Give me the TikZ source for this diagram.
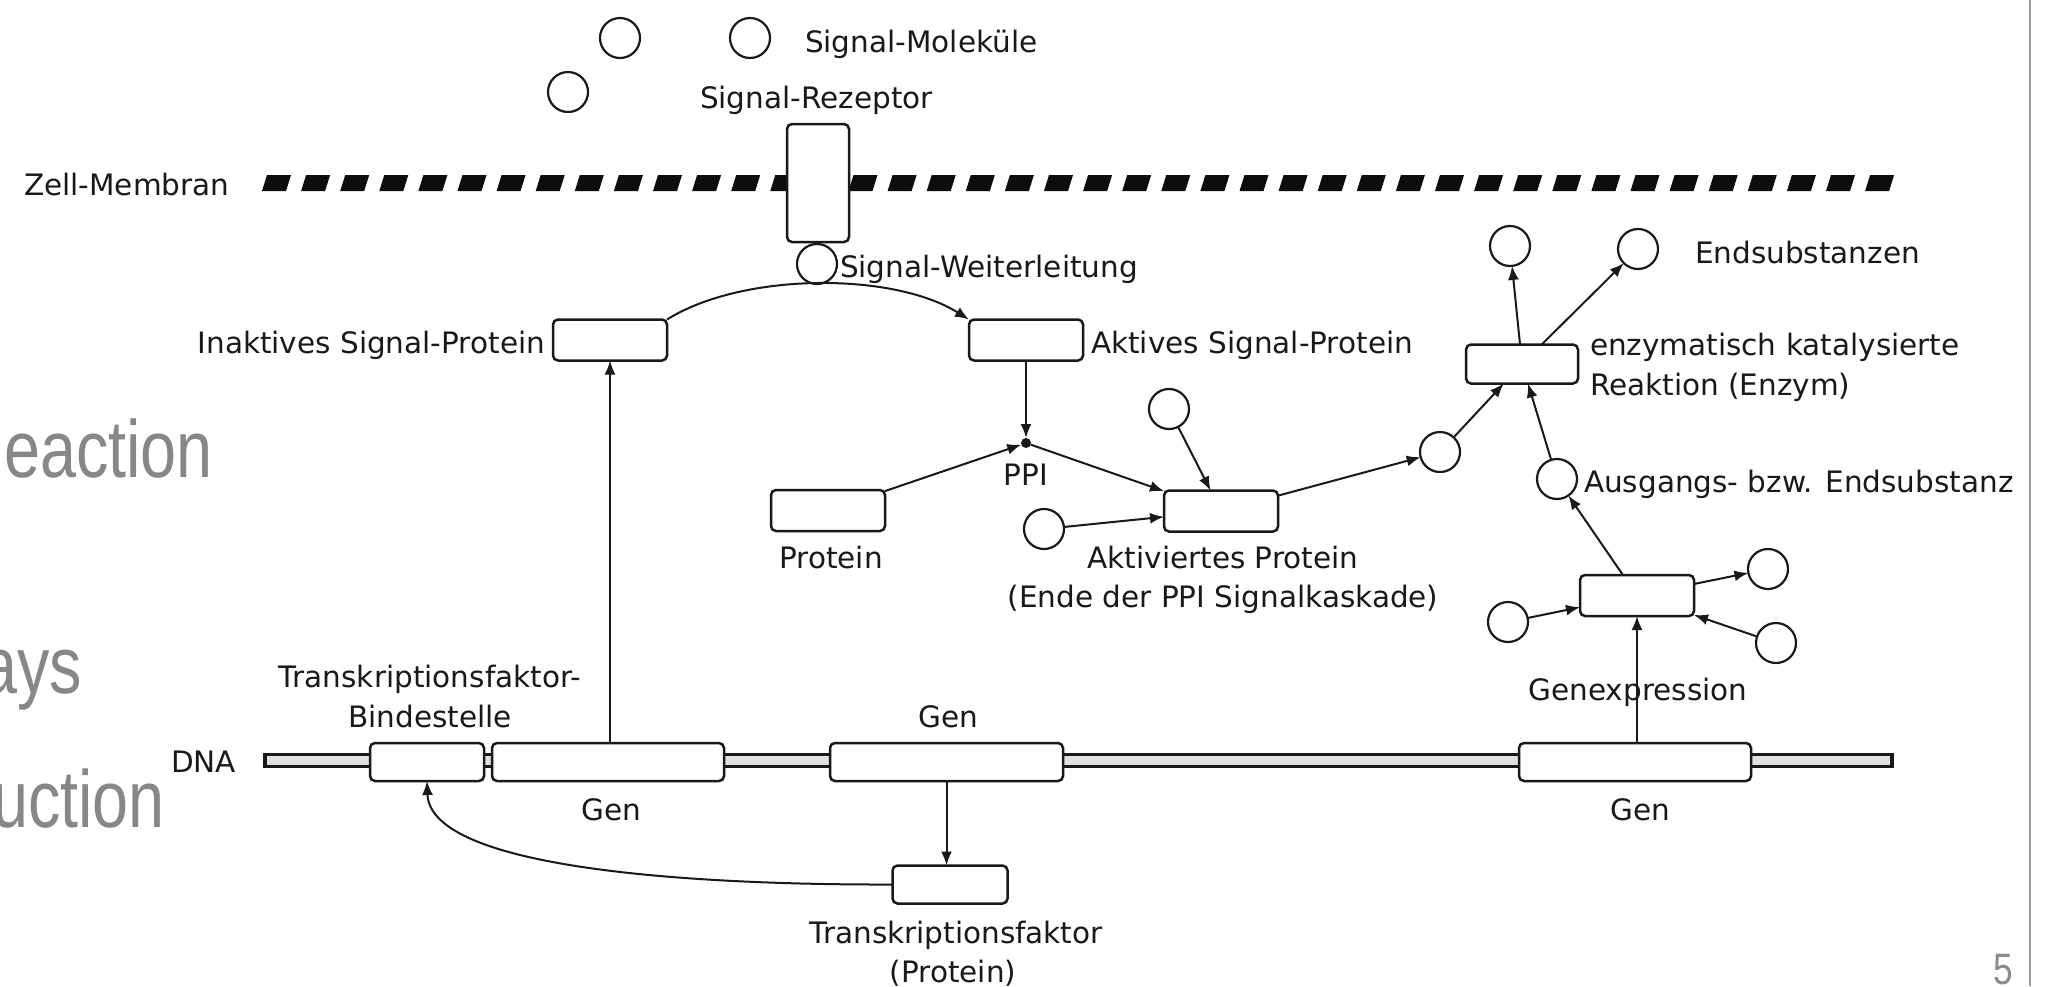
\documentclass[tikz,border=0pt]{standalone}
\usepackage{fontspec}
\setmainfont{DejaVu Sans}
\newfontfamily\slidefont[FakeStretch=0.8]{Liberation Sans}
\usetikzlibrary{arrows.meta,calc}
\begin{document}
\begin{tikzpicture}[x=1pt,y=-1pt,
  every node/.style={inner sep=0pt, outer sep=0pt},
  lbl/.style={font=\fontsize{29.5}{34}\selectfont, text=black!90},
  box/.style={draw=black!90, line width=2.5pt, rounded corners=5pt, fill=white, minimum height=41pt},
  mol/.style={draw=black!90, line width=2.2pt, circle, minimum size=40pt, fill=white},
  link/.style={draw=black!90, line width=2pt, -{Latex[length=14pt,width=11pt]}},
  slide/.style={font=\slidefont\fontsize{81}{90}\selectfont, text=black!47}]

% canvas
\useasboundingbox (0,0) rectangle (2053,986);
\clip (0,0) rectangle (2053,986);
\fill[white] (0,0) rectangle (2053,986);

% slide text behind the diagram
\node[slide, anchor=base east] (gA) at (213,477) {eaction};
\node[slide, anchor=base east] (gB) at (82,693) {ays};
\node[slide, anchor=base east] (gC) at (165,827) {uction};
\node[font=\slidefont\fontsize{44}{50}\selectfont, text=black!45, anchor=north] (pg) at (2003,954) {5};
\draw[black!40, line width=1.5pt] (2030,0) -- (2030,986);

% cell membrane: slanted dashes
\foreach \i in {0,...,41}{
  \pgfmathsetmacro{\xa}{262+\i*39.1}
  \fill[black!95] (\xa,191) -- ({\xa+24},191) -- ({\xa+29},175) -- ({\xa+5},175) -- cycle;
}

% DNA strand
\draw[black!90, line width=3.4pt, fill=black!12] (265,754.5) rectangle (1892,766.5);

% signal molecules and receptor
\node[mol] (s1) at (620,38) {};
\node[mol] (s2) at (750,38) {};
\node[mol] (s3) at (568,92) {};
\node[box, minimum width=62pt, minimum height=118pt] (rez) at (818,183) {};
\node[mol] (sw) at (817,264) {};

% signalling proteins
\node[box, minimum width=114pt] (inaktiv) at (610,340) {};
\node[box, minimum width=114pt] (aktiv) at (1026,340) {};
\node[fill=black!90, circle, minimum size=10pt] (ppi) at (1026,443) {};
\node[box, minimum width=114pt] (protein) at (828,510.5) {};
\node[box, minimum width=114pt] (aktiviert) at (1221,511) {};
\node[mol] (mA) at (1169,409) {};
\node[mol] (mB) at (1044,529) {};
\node[mol] (mC) at (1440,452) {};

% enzymatic reaction
\node[box, minimum width=112pt, minimum height=39pt] (enzym) at (1522,364) {};
\node[mol] (e1) at (1510,246) {};
\node[mol] (e2) at (1638,249) {};
\node[mol] (aus) at (1557,479) {};

% gene expression
\node[box, minimum width=114pt] (genex) at (1637,595.5) {};
\node[mol] (g1) at (1768,569) {};
\node[mol] (g2) at (1508,622) {};
\node[mol] (g3) at (1776,643) {};

% DNA segments
\node[box, minimum width=114pt, minimum height=38pt] (bind) at (427,762) {};
\node[box, minimum width=232pt, minimum height=38pt] (gen1) at (608,762) {};
\node[box, minimum width=233pt, minimum height=38pt] (gen2) at (946.5,762) {};
\node[box, minimum width=232pt, minimum height=38pt] (gen3) at (1635,762) {};
\node[box, minimum width=115pt, minimum height=38pt] (tf) at (950,884.5) {};

% labels
\node[lbl, anchor=base west] (tMol) at (805,52) {Signal-Moleküle};
\node[lbl, anchor=base west] (tRez) at (700,108) {Signal-Rezeptor};
\node[lbl, anchor=base west] (tMem) at (24,195) {Zell-Membran};
\node[lbl, anchor=base west] (tWeit) at (840,277) {Signal-Weiterleitung};
\node[lbl, anchor=base east] (tInakt) at (545,353) {Inaktives Signal-Protein};
\node[lbl, anchor=base west] (tAkt) at (1091,353) {Aktives Signal-Protein};
\node[lbl, anchor=base] (tPPI) at (1026,485) {PPI};
\node[lbl, anchor=base] (tProt) at (831,568) {Protein};
\node[lbl, anchor=base] (tAktiv1) at (1223,568) {Aktiviertes Protein};
\node[lbl, anchor=base] (tAktiv2) at (1223,607) {(Ende der PPI Signalkaskade)};
\node[lbl, anchor=base west] (tEnz1) at (1590,355) {enzymatisch katalysierte};
\node[lbl, anchor=base west] (tEnz2) at (1590,395) {Reaktion (Enzym)};
\node[lbl, anchor=base west] (tEnd) at (1695,263) {Endsubstanzen};
\node[lbl, anchor=base west] (tAus) at (1584,492) {Ausgangs- bzw. Endsubstanz};
\node[lbl, anchor=base] (tGex) at (1638,700) {Genexpression};
\node[lbl, anchor=base] (tTF1) at (430,687) {Transkriptionsfaktor-};
\node[lbl, anchor=base] (tTF2) at (430,727) {Bindestelle};
\node[lbl, anchor=base west] (tDNA) at (171,772) {DNA};
\node[lbl, anchor=base] (tGen1) at (611,820) {Gen};
\node[lbl, anchor=base] (tGen2) at (948,727) {Gen};
\node[lbl, anchor=base] (tGen3) at (1640,820) {Gen};
\node[lbl, anchor=base] (tTF3) at (956,943) {Transkriptionsfaktor};
\node[lbl, anchor=base] (tTF4) at (953,982) {(Protein)};

% connectors
\draw[link] (inaktiv.south |- gen1.north) -- (inaktiv.south);
\draw[link] (inaktiv.north east) .. controls (743,272) and (893,272) .. (aktiv.north west);
\draw[link] (aktiv.south) -- (ppi.north);
\draw[link] (protein) -- (ppi);
\draw[link] (ppi) -- (aktiviert);
\draw[link] (mA) -- (aktiviert);
\draw[link] (mB) -- (aktiviert);
\draw[link] (aktiviert) -- (mC);
\draw[link] (mC) -- (enzym);
\draw[link] (enzym) -- (e1);
\draw[link] (enzym) -- (e2);
\draw[link] (aus) -- (enzym);
\draw[link] (genex) -- (aus);
\draw[link] (genex) -- (g1);
\draw[link] (g2) -- (genex);
\draw[link] (g3) -- (genex);
\draw[link] (genex.south |- gen3.north) -- (genex.south);
\draw[link] (gen2.south) -- (gen2.south |- tf.north);
\draw[link] (tf.west) .. controls (700,885) and (430,870) .. (bind.south);
\end{tikzpicture}
\end{document}
